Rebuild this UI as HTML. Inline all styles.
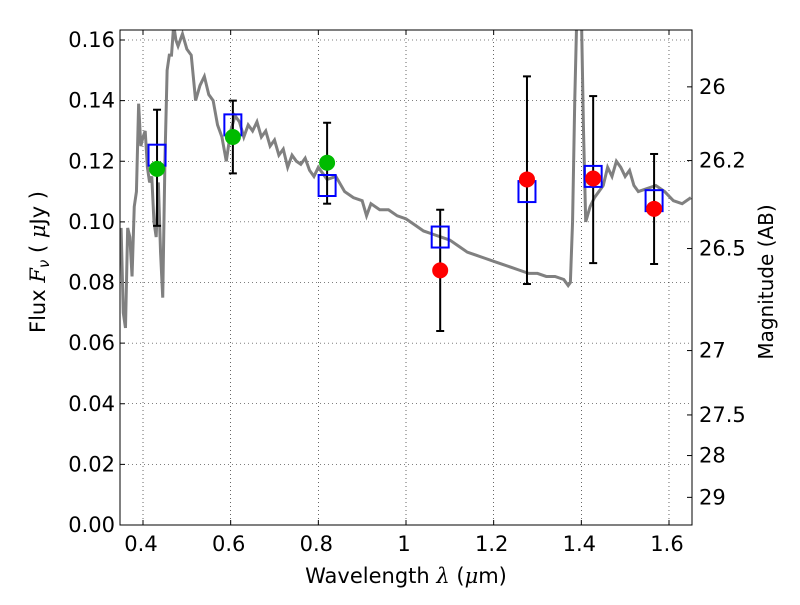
<!DOCTYPE html>
<html><head><meta charset="utf-8"><style>
body{margin:0;background:#fff;}
svg text{font-family:"DejaVu Sans","Liberation Sans",sans-serif;}
</style></head><body>
<svg id="chart" width="800" height="600" xmlns="http://www.w3.org/2000/svg"></svg>
<script>
const specX=[0.35,0.355,0.36,0.365,0.37,0.375,0.38,0.385,0.39,0.395,0.40,0.405,0.41,0.415,0.42,0.425,0.43,0.435,0.44,0.445,0.45,0.455,0.46,0.465,0.47,0.475,0.48,0.49,0.50,0.51,0.52,0.53,0.54,0.55,0.56,0.57,0.58,0.59,0.60,0.61,0.62,0.63,0.64,0.65,0.66,0.67,0.68,0.69,0.70,0.71,0.72,0.73,0.74,0.75,0.76,0.77,0.78,0.79,0.80,0.82,0.84,0.86,0.88,0.90,0.91,0.92,0.94,0.96,0.98,1.0,1.02,1.04,1.06,1.08,1.10,1.12,1.14,1.16,1.18,1.2,1.22,1.24,1.26,1.28,1.30,1.32,1.34,1.36,1.37,1.375,1.38,1.385,1.39,1.40,1.405,1.41,1.42,1.43,1.44,1.45,1.46,1.47,1.48,1.49,1.50,1.51,1.52,1.53,1.55,1.57,1.59,1.61,1.63,1.65];
const specY=[0.098,0.07,0.065,0.098,0.095,0.082,0.105,0.11,0.139,0.125,0.128,0.13,0.118,0.113,0.115,0.1,0.095,0.113,0.09,0.075,0.12,0.15,0.155,0.155,0.165,0.16,0.158,0.162,0.157,0.155,0.14,0.145,0.148,0.142,0.14,0.132,0.128,0.12,0.13,0.135,0.133,0.128,0.132,0.13,0.133,0.128,0.13,0.125,0.127,0.122,0.124,0.118,0.122,0.12,0.119,0.121,0.117,0.115,0.118,0.114,0.115,0.11,0.108,0.107,0.102,0.106,0.104,0.104,0.102,0.101,0.099,0.097,0.096,0.095,0.094,0.092,0.09,0.089,0.088,0.087,0.086,0.085,0.084,0.083,0.083,0.082,0.082,0.081,0.079,0.08,0.1,0.14,0.17,0.17,0.13,0.1,0.105,0.108,0.11,0.112,0.118,0.115,0.12,0.118,0.115,0.117,0.112,0.11,0.111,0.112,0.11,0.107,0.106,0.108];
const bandX=[0.432,0.605,0.82,1.078,1.276,1.427,1.566];
const modelF=[0.122,0.132,0.112,0.095,0.110,0.115,0.107];
const obsF=[0.1175,0.128,0.1195,0.084,0.114,0.1143,0.1043];
const obsColor=['#00bb00','#00bb00','#00bb00','red','red','red','red'];
const errHi=[0.137,0.140,0.1327,0.104,0.148,0.1415,0.1224];
const errLo=[0.0987,0.116,0.106,0.064,0.0795,0.0864,0.0861];
const xTicks=[0.4,0.6,0.8,1,1.2,1.4,1.6];
const xTickLabels=['0.4','0.6','0.8','1','1.2','1.4','1.6'];
const yTicks=[0,0.02,0.04,0.06,0.08,0.10,0.12,0.14,0.16];
const magTicks=[26,26.2,26.5,27,27.5,28,29];
const magLabels=['26','26.2','26.5','27','27.5','28','29'];

const L=120,R=692,T=30,B=525,X0=0.3475,X1=1.6525,Y0=0,Y1=0.1633;
const sx=v=>L+(v-X0)/(X1-X0)*(R-L);
const sy=v=>B-(v-Y0)/(Y1-Y0)*(B-T);
const svg=document.getElementById('chart');
const NS='http://www.w3.org/2000/svg';
function mk(tag,attrs,parent){const e=document.createElementNS(NS,tag);for(const k in attrs)e.setAttribute(k,attrs[k]);(parent||svg).appendChild(e);return e;}
const defs=mk('defs',{});const cp=mk('clipPath',{id:'clip'},defs);mk('rect',{x:L,y:T,width:R-L,height:B-T},cp);

xTicks.forEach((v,i)=>{
 const g=mk('line',{x1:sx(v),x2:sx(v),y1:T,y2:B,stroke:'#000','stroke-width':0.6,'stroke-dasharray':'1,3'});
 
 
 mk('line',{x1:sx(v),x2:sx(v),y1:B,y2:B-5,stroke:'#000'});
 mk('line',{x1:sx(v),x2:sx(v),y1:T,y2:T+5,stroke:'#000'});
 const t=mk('text',{x:sx(v)-2,y:B+26,'font-size':21,'text-anchor':'middle'});t.textContent=xTickLabels[i];
 
 
});
yTicks.forEach(v=>{
 const g=mk('line',{x1:L,x2:R,y1:sy(v),y2:sy(v),stroke:'#000','stroke-width':0.6,'stroke-dasharray':'1,3'});
 
 
 mk('line',{x1:L,x2:L+5,y1:sy(v),y2:sy(v),stroke:'#000'});
 const t=mk('text',{x:L-5,y:sy(v)+7,'font-size':21,'text-anchor':'end'});t.textContent=v.toFixed(2);
 
 
});
magTicks.forEach((m,i)=>{
 const f=Math.pow(10,(23.9-m)/2.5);
 mk('line',{x1:R-5,x2:R,y1:sy(f),y2:sy(f),stroke:'#000'});
 const t=mk('text',{x:R+7,y:sy(f)+7,'font-size':21});t.textContent=magLabels[i];
 
 
});
const sp=mk('polyline',{points:specX.map((x,i)=>sx(x)+','+sy(specY[i])).join(' '),fill:'none',stroke:'#808080','stroke-width':3,'clip-path':'url(#clip)'});


bandX.forEach((x,i)=>{
 const g=mk('g',{stroke:'#000','stroke-width':2});
 
 
 mk('line',{x1:sx(x),x2:sx(x),y1:sy(errHi[i]),y2:sy(errLo[i])},g);
 mk('line',{x1:sx(x)-4,x2:sx(x)+4,y1:sy(errHi[i]),y2:sy(errHi[i])},g);
 mk('line',{x1:sx(x)-4,x2:sx(x)+4,y1:sy(errLo[i]),y2:sy(errLo[i])},g);
});
bandX.forEach((x,i)=>{
 const r=mk('rect',{x:sx(x)-8.5,y:sy(modelF[i])-10.5,width:17,height:21,fill:'none',stroke:'#0000ff','stroke-width':2});
 
 
});
bandX.forEach((x,i)=>{
 const c=mk('circle',{cx:sx(x),cy:sy(obsF[i]),r:8,fill:obsColor[i]});
 
 
});
const fr=mk('rect',{x:L,y:T,width:R-L,height:B-T,fill:'none',stroke:'#000','stroke-width':1});


const xt=mk('text',{x:406,y:583,'font-size':21,'text-anchor':'middle'});
xt.innerHTML='Wavelength  <tspan font-style="italic" font-family="DejaVu Serif">λ</tspan> (<tspan font-style="italic" font-family="DejaVu Serif">μ</tspan>m)';
xt.setAttribute('xml:space','preserve');


const yt=mk('text',{x:0,y:0,'font-size':21,'text-anchor':'middle',transform:'translate(45,262) rotate(-90)'});
yt.innerHTML='Flux  <tspan font-style="italic" font-family="DejaVu Serif">F</tspan><tspan font-style="italic" font-size="15" dy="4">ν</tspan><tspan dy="-4">  (  </tspan><tspan font-style="italic" font-family="DejaVu Serif">μ</tspan>Jy )';
yt.setAttribute('xml:space','preserve');


const rt=mk('text',{x:0,y:0,'font-size':20,'text-anchor':'middle',transform:'translate(773,282) rotate(-90)'});
rt.textContent='Magnitude (AB)';


</script>
</body></html>
